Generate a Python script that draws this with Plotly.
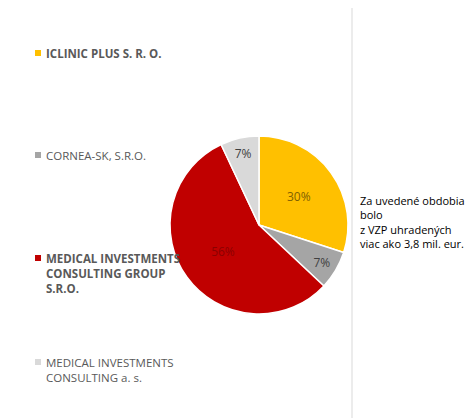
import plotly.graph_objects as go

labels = ["ICLINIC PLUS S. R. O.", "CORNEA-SK, S.R.O.",
          "MEDICAL INVESTMENTS<br>CONSULTING GROUP<br>S.R.O.",
          "MEDICAL INVESTMENTS<br>CONSULTING a. s."]
values = [30, 7, 56, 7]
colors = ["#FFC000", "#A5A5A5", "#C00000", "#D9D9D9"]
bold = [True, False, True, False]
legend_y = [36, 138, 241, 345]
text_colors = ["#7F6000", "#404040", "#8B0000", "#404040"]

W, H = 474, 418
fig = go.Figure(go.Pie(
    labels=[l.replace("<br>", " ") for l in labels], values=values,
    marker=dict(colors=colors, line=dict(color="white", width=1.5)),
    sort=False, direction="clockwise", rotation=0,
    textinfo="percent", textposition="inside", insidetextorientation="horizontal",
    textfont=dict(family="Open Sans", size=12, color=text_colors),
    domain=dict(x=[162/W, 340/W], y=[1-306/H, 1-128/H]),
    showlegend=False, hoverinfo="label+percent"))

ann = []
shapes = []
for lab, c, b, y in zip(labels, colors, bold, legend_y):
    txt = f"<b>{lab}</b>" if b else lab
    ann.append(dict(x=36/W, y=1-y/H, xref="paper", yref="paper", xanchor="left", yanchor="top",
                    text=txt, showarrow=False, align="left",
                    font=dict(family="Open Sans", size=11.5, color="#595959")))
    shapes.append(dict(type="rect", xref="paper", yref="paper",
                       x0=27/W, x1=33/W, y0=1-(y+6)/H, y1=1-(y+12)/H,
                       fillcolor=c, line=dict(width=0)))
ann.append(dict(x=350/W, y=1-183/H, xref="paper", yref="paper", xanchor="left", yanchor="top",
                text="Za uvedené obdobia<br>bolo<br>z VZP uhradených<br>viac ako 3,8 mil. eur.",
                showarrow=False, align="left",
                font=dict(family="Open Sans", size=11, color="#000000")))
shapes.append(dict(type="line", xref="paper", yref="paper", x0=344/W, x1=344/W, y0=0, y1=1,
                   line=dict(color="#D9D9D9", width=1)))

fig.update_layout(width=W, height=H, margin=dict(l=0, r=0, t=0, b=0),
                  paper_bgcolor="white", annotations=ann, shapes=shapes)
fig.write_html("out.html")
